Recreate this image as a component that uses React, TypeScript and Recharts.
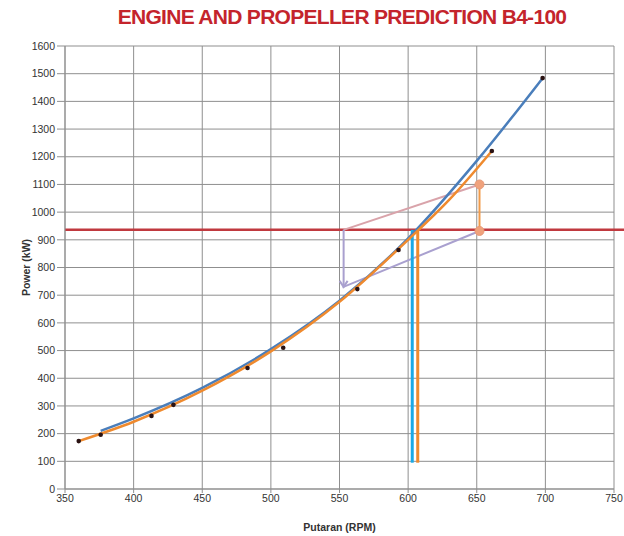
import {
  ComposedChart,
  Line,
  Scatter,
  XAxis,
  YAxis,
  CartesianGrid,
  ReferenceLine,
  Label,
} from "recharts";

// propeller curve (blue)
const blueCurve = [
  { x: 376, y: 210 },
  { x: 400, y: 255 },
  { x: 450, y: 365 },
  { x: 500, y: 505 },
  { x: 550, y: 680 },
  { x: 600, y: 905 },
  { x: 650, y: 1185 },
  { x: 698, y: 1484 },
];

// engine curve (orange)
const orangeCurve = [
  { x: 360, y: 173 },
  { x: 400, y: 243 },
  { x: 450, y: 355 },
  { x: 500, y: 497 },
  { x: 550, y: 676 },
  { x: 600, y: 900 },
  { x: 630, y: 1045 },
  { x: 661, y: 1221 },
];

// measured points
const points = [
  { x: 360, y: 173 },
  { x: 376, y: 196 },
  { x: 413, y: 264 },
  { x: 429, y: 304 },
  { x: 483, y: 437 },
  { x: 509, y: 510 },
  { x: 563, y: 722 },
  { x: 593, y: 863 },
  { x: 661, y: 1221 },
  { x: 698, y: 1484 },
];

const limitPower = 936;
const blueDrop = [
  { x: 603, y: 936 },
  { x: 603, y: 95 },
];
const orangeDrop = [
  { x: 607, y: 936 },
  { x: 607, y: 95 },
];
const orangeRise = [
  { x: 652, y: 932 },
  { x: 652, y: 1100 },
];
const pinkLine = [
  { x: 553, y: 936 },
  { x: 652, y: 1100 },
];
const lavenderLine = [
  { x: 652, y: 932 },
  { x: 553, y: 730 },
  { x: 553, y: 936 },
];

const xTicks = [350, 400, 450, 500, 550, 600, 650, 700, 750];
const yTicks = [0, 100, 200, 300, 400, 500, 600, 700, 800, 900, 1000, 1100, 1200, 1300, 1400, 1500, 1600];

const font = "'Liberation Sans', Arial, sans-serif";

const ArrowDot = (props: any) => {
  const { cx, cy, index } = props;
  if (index !== 1) return <g key={index} />;
  return (
    <path
      key={index}
      d={`M${cx - 4},${cy - 6} L${cx},${cy} L${cx + 4},${cy - 6}`}
      stroke="#a9a0cf"
      strokeWidth={2}
      fill="none"
    />
  );
};

const PeachDot = (props: any) => {
  const { cx, cy, index } = props;
  return <circle key={index} cx={cx} cy={cy} r={4.5} fill="#f0a27c" stroke="#e89a78" />;
};

const SmallDot = (props: any) => {
  const { cx, cy } = props;
  return <circle cx={cx} cy={cy} r={2.3} fill="#2a1212" />;
};

export default function App() {
  return (
    <div style={{ position: "absolute", left: 0, top: 0, width: 624, height: 536, background: "#fff" }}>
      <div
        style={{
          position: "absolute",
          top: 5,
          left: 112,
          width: 460,
          textAlign: "center",
          fontFamily: font,
          fontWeight: 700,
          fontSize: 21,
          color: "#c4242c",
          letterSpacing: -0.7,
        }}
      >
        ENGINE AND PROPELLER PREDICTION B4-100
      </div>
      <ComposedChart width={624} height={536} margin={{ top: 46, right: 10, left: 0, bottom: 0 }}>
        <CartesianGrid stroke="#8f8f8f" strokeWidth={1} />
        <XAxis
          dataKey="x"
          type="number"
          domain={[350, 750]}
          ticks={xTicks}
          height={47}
          allowDataOverflow
          stroke="#8f8f8f"
          tickSize={4}
          tick={{ fontSize: 10.5, fill: "#333", fontFamily: font }}
        >
          <Label value="Putaran (RPM)" position="insideBottom" offset={5} style={{ fontSize: 10.5, fill: "#333", fontWeight: 700, fontFamily: font }} />
        </XAxis>
        <YAxis
          type="number"
          domain={[0, 1600]}
          ticks={yTicks}
          width={65}
          stroke="#8f8f8f"
          tickSize={8}
          tick={{ fontSize: 10.5, fill: "#333", fontFamily: font }}
        >
          <Label value="Power (kW)" angle={-90} position="insideLeft" offset={26} style={{ fontSize: 10.5, fill: "#333", fontWeight: 700, fontFamily: font, textAnchor: "middle" }} />
        </YAxis>
        <ReferenceLine
          segment={[
            { x: 350, y: limitPower },
            { x: 758, y: limitPower },
          ]}
          stroke="#c0393f"
          strokeWidth={2.5}
          ifOverflow="visible"
        />
        <Line data={pinkLine} dataKey="y" type="linear" stroke="#d9a3aa" strokeWidth={2} dot={false} isAnimationActive={false} />
        <Line data={lavenderLine} dataKey="y" type="linear" stroke="#a9a0cf" strokeWidth={2} dot={<ArrowDot />} isAnimationActive={false} />
        <Line data={blueDrop} dataKey="y" type="linear" stroke="#1aa9e6" strokeWidth={3} dot={false} isAnimationActive={false} />
        <Line data={orangeDrop} dataKey="y" type="linear" stroke="#ef8a2e" strokeWidth={3} dot={false} isAnimationActive={false} />
        <Line data={blueCurve} dataKey="y" type="monotone" stroke="#4a7ebb" strokeWidth={2.5} dot={false} isAnimationActive={false} />
        <Line data={orangeCurve} dataKey="y" type="monotone" stroke="#ef8a2e" strokeWidth={2.5} dot={false} isAnimationActive={false} />
        <Line data={orangeRise} dataKey="y" type="linear" stroke="#f09a4a" strokeWidth={2} dot={<PeachDot />} isAnimationActive={false} />
        <Scatter data={points} dataKey="y" fill="#2a1212" shape={<SmallDot />} isAnimationActive={false} />
      </ComposedChart>
    </div>
  );
}
